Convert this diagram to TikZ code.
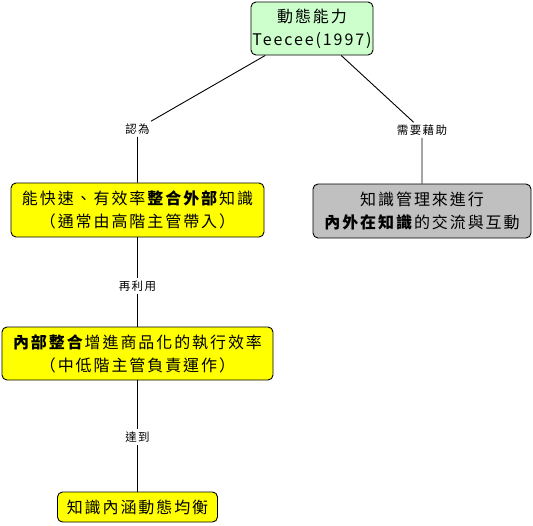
\documentclass[tikz,border=0pt]{standalone}
\usepackage{fontspec}
\usetikzlibrary{positioning}
\newfontfamily\zh{Noto Sans CJK TC}[LetterSpace=12]
\newfontfamily\zhlab{Noto Sans CJK TC}[LetterSpace=12]
\definecolor{dynfill}{HTML}{CCFFCC}
\definecolor{keyfill}{HTML}{FFFF00}
\definecolor{kmfill}{HTML}{C0C0C0}

\begin{document}
\begin{tikzpicture}[x=1pt,y=-1pt,line width=.9pt,
  box/.style={draw=black,rounded corners=5pt,align=center,inner sep=0pt,font=\zh\fontsize{16}{23}\selectfont},
  lab/.style={font=\zhlab\fontsize{11.5}{13}\selectfont,inner sep=2pt}]
\useasboundingbox (0,0) rectangle (533,525);
\node[box,fill=dynfill,minimum width=122pt,minimum height=53pt] (dyn) at (312,28.5){動態能力\\Teecee(1997)};
\node[box,fill=keyfill,minimum width=253pt,minimum height=54pt] (ext) at (137.5,210){能快速、有效率\textbf{整合外部}知識\\（通常由高階主管帶入）};
\node[box,fill=kmfill,minimum width=218pt,minimum height=54pt] (km) at (422,211){知識管理來進行\\\textbf{內外在知識}的交流與互動};
\node[box,fill=keyfill,minimum width=271pt,minimum height=53pt] (int) at (137.5,353.5){\textbf{內部整合}增進商品化的執行效率\\（中低階主管負責運作）};
\node[box,fill=keyfill,minimum width=160pt,minimum height=30pt] (bal) at (137.5,507){知識內涵動態均衡};
% labels on the links
\node[lab] (l1) at (137.5,129){認為};
\node[lab] (l2) at (422,130){需要藉助};
\node[lab] (l3) at (137.5,286){再利用};
\node[lab] (l4) at (137.5,437){達到};
\draw (dyn)--(l1)--(ext);
\draw (dyn)--(l2)--(km);
\draw (ext)--(l3)--(int);
\draw (int)--(l4)--(bal);
\end{tikzpicture}
\end{document}
